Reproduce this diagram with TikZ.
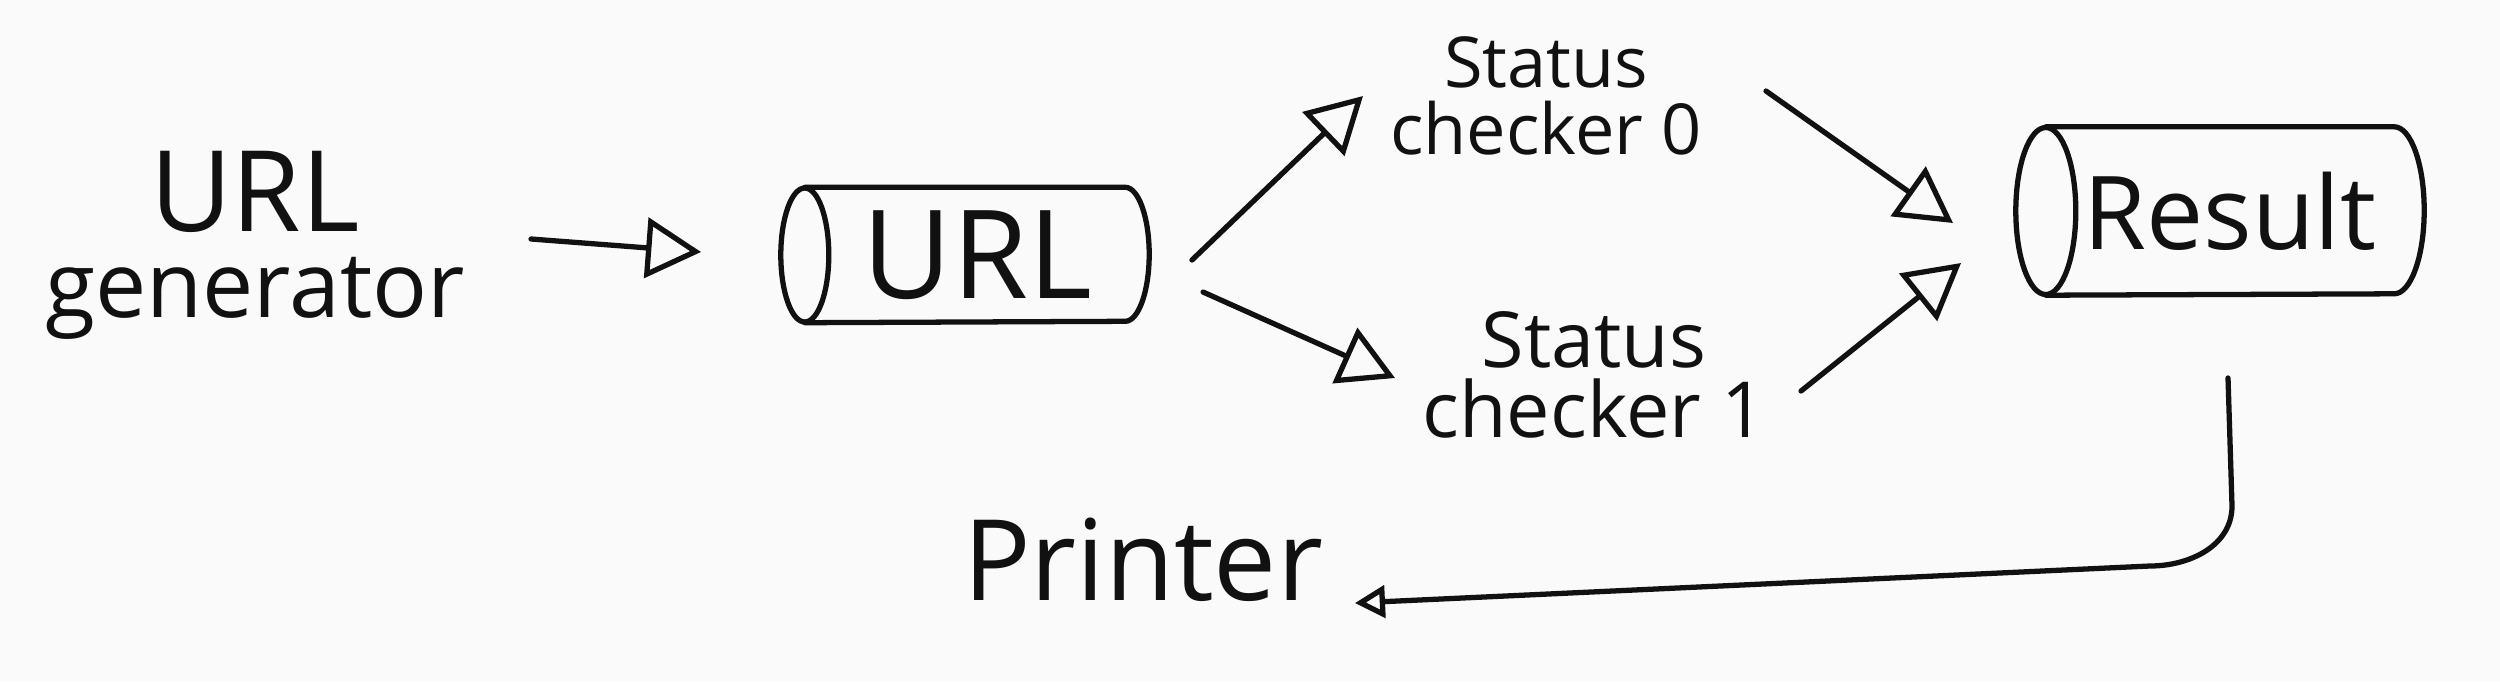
\documentclass[tikz,border=0pt]{standalone}
\usepackage{fontspec}
\setmainfont{Open Sans}
\usetikzlibrary{arrows.meta,calc}
\definecolor{paper}{RGB}{250,250,250}
\definecolor{ink}{RGB}{17,17,17}
\tikzset{
 stroke/.style={draw=ink, line width=1.5pt, line cap=round, line join=round},
 arr/.style={stroke, -{Triangle[open, length=0.55cm, width=0.6cm]}},
 smallarr/.style={stroke, -{Triangle[open, length=0.3cm, width=0.32cm]}},
 lbl/.style={text=ink, inner sep=0pt, align=center},
 box/.style={inner sep=0pt, text=ink},
}
\newcommand\hcyl[3]{%
 \draw[stroke] ([xshift=#2cm]#1.north west) -- ([xshift=-#2cm]#1.north east)
   arc[start angle=90,end angle=-90,x radius=#2cm,y radius=#3cm]
   -- ([xshift=#2cm]#1.south west);
 \draw[stroke] ([xshift=#2cm]#1.west) ellipse[x radius=#2cm, y radius=#3cm];}
\begin{document}
\begin{tikzpicture}
\fill[paper] (0,0) rectangle (25,-6.81);
\useasboundingbox (0,0) rectangle (25,-6.81);
\node[lbl] (gen) at (2.55,-2.45) {\fontsize{32}{26}\selectfont URL\\[6pt]\fontsize{26}{24}\selectfont generator};
\node[box, minimum width=3.67cm, minimum height=1.34cm, font=\fontsize{35}{40}\selectfont] (url) at (9.65,-2.55) {\hspace*{0.25cm}URL};
\hcyl{url}{0.24}{0.67}
\node[lbl, font=\fontsize{20}{19}\selectfont] (sc0) at (15.46,-0.96) {Status\\checker 0};
\node[lbl, font=\fontsize{22}{20}\selectfont] (sc1) at (15.94,-3.75) {Status\\checker 1};
\node[box, minimum width=4.07cm, minimum height=1.67cm, font=\fontsize{29}{34}\selectfont] (res) at (22.20,-2.11) {\hspace*{0.2cm}Result};
\hcyl{res}{0.3}{0.835}
\node[lbl, font=\fontsize{32}{36}\selectfont] (prn) at (11.43,-5.60) {Printer};
\draw[arr] ($(gen)+(2.76,0.06)$) -- ($(url)+(-2.64,0.03)$);
\draw[arr] ($(url)+(2.27,-0.05)$) -- ($(sc0)+(-1.83,0)$);
\draw[arr] ($(url)+(2.38,-0.37)$) -- ($(sc1)+(-1.99,-0.03)$);
\draw[arr] ($(sc0)+(2.20,0.05)$) -- ($(res)+(-2.67,-0.12)$);
\draw[arr] ($(sc1)+(2.07,-0.16)$) -- ($(res)+(-2.59,-0.52)$);
\draw[smallarr] ($(res)+(0.08,-1.67)$) -- ($(res)+(0.12,-2.95)$) to[out=-90,in=0] ($(res)+(-0.7,-3.55)$) -- ($(prn)+(2.12,-0.43)$);
\end{tikzpicture}
\end{document}
